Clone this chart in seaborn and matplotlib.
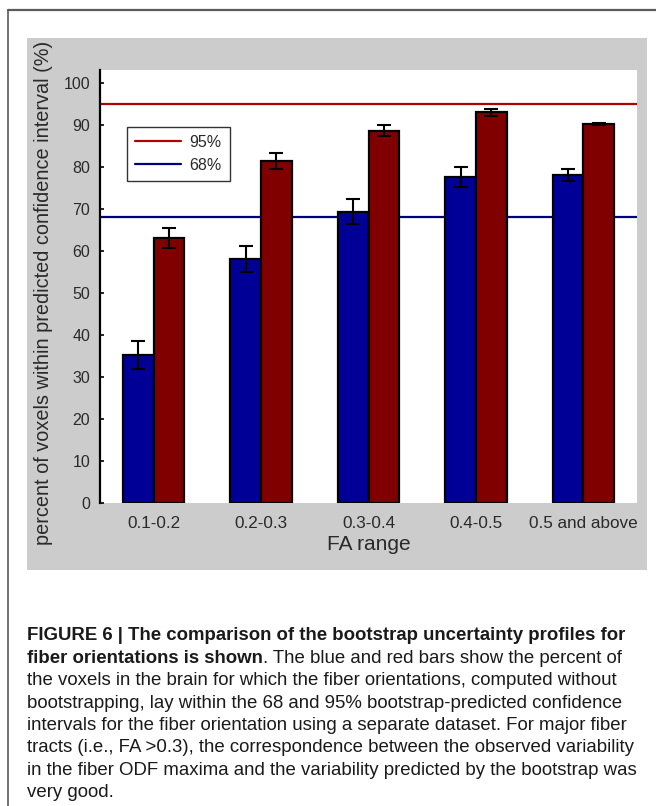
import matplotlib
matplotlib.use("Agg")
import matplotlib.pyplot as plt
from matplotlib.patches import Rectangle
from matplotlib.lines import Line2D
import numpy as np
import pandas as pd
import seaborn as sns

# ---- data -------------------------------------------------------------
fa_ranges = ["0.1-0.2", "0.2-0.3", "0.3-0.4", "0.4-0.5", "0.5 and above"]
pct_68 = [35.2, 58.1, 69.3, 77.6, 78.1]
err_68 = [3.3, 3.1, 2.9, 2.4, 1.4]
pct_95 = [63.1, 81.4, 88.6, 92.9, 90.2]
err_95 = [2.4, 1.9, 1.3, 0.8, 0.3]
levels = ["68%", "95%"]
ref_levels = [68, 95]
y_ticks = [0, 10, 20, 30, 40, 50, 60, 70, 80, 90, 100]

caption_lines = [
    [("FIGURE 6 | The comparison of the bootstrap uncertainty profiles for", "bold")],
    [("fiber orientations is shown", "bold"),
     (". The blue and red bars show the percent of", "normal")],
    [("the voxels in the brain for which the fiber orientations, computed without", "normal")],
    [("bootstrapping, lay within the 68 and 95% bootstrap-predicted confidence", "normal")],
    [("intervals for the fiber orientation using a separate dataset. For major fiber", "normal")],
    [("tracts (i.e., FA >0.3), the correspondence between the observed variability", "normal")],
    [("in the fiber ODF maxima and the variability predicted by the bootstrap was", "normal")],
    [("very good.", "normal")],
]

BAR_BLUE = "#000096"
BAR_RED = "#800000"
LINE_BLUE = "#00007a"
LINE_RED = "#b00000"
TEXT = "#2a2a2a"

df = pd.DataFrame({
    "FA range": fa_ranges * 2,
    "level": [levels[0]] * len(fa_ranges) + [levels[1]] * len(fa_ranges),
    "pct": pct_68 + pct_95,
    "err": err_68 + err_95,
})

# ---- figure -----------------------------------------------------------
sns.set_theme(style="white")
plt.rcParams["font.family"] = ["Liberation Sans", "DejaVu Sans"]

W, H = 656, 806
fig = plt.figure(figsize=(W / 100, H / 100), dpi=100)
fig.patch.set_facecolor("white")


def fx(px):
    return px / W


def fy(py):
    return 1 - py / H


# outer frame (top and left edges)
fig.add_artist(Line2D([fx(8), 1.0], [fy(10), fy(10)], color="#5a5a5a", lw=1.6))
fig.add_artist(Line2D([fx(8), fx(8)], [fy(10), 0.0], color="#5a5a5a", lw=1.2))

# grey panel behind the chart
fig.add_artist(Rectangle((fx(27), fy(570)), fx(647) - fx(27), fy(38) - fy(570),
                         facecolor="#cccccc", edgecolor="none", zorder=0))

ax_l, ax_r, ax_t, ax_b = 100, 637, 70, 503
ax = fig.add_axes([fx(ax_l), fy(ax_b), fx(ax_r) - fx(ax_l), fy(ax_t) - fy(ax_b)])
ax.set_facecolor("white")

sns.barplot(data=df, x="FA range", y="pct", hue="level", hue_order=levels,
            palette=[BAR_BLUE, BAR_RED], saturation=1, width=0.57, edgecolor="black",
            linewidth=1.6, errorbar=None, legend=False, ax=ax, zorder=3)

# error bars at the centres of the drawn bars
for cont, lvl in zip(ax.containers, levels):
    sub = df[df["level"] == lvl]
    xs = [p.get_x() + p.get_width() / 2 for p in cont.patches]
    ax.errorbar(xs, sub["pct"].values, yerr=sub["err"].values, fmt="none",
                ecolor="black", elinewidth=1.5, capsize=4.8, capthick=1.5, zorder=4)

# reference confidence levels
ax.axhline(ref_levels[1], color=LINE_RED, lw=1.6, zorder=2)
ax.axhline(ref_levels[0], color=LINE_BLUE, lw=1.6, zorder=2)

ax.set_xlim(-0.5, len(fa_ranges) - 0.5)
ax.set_ylim(0, 103)
ax.set_yticks(y_ticks)
ax.tick_params(axis="y", direction="in", length=3, width=1.2, color="black",
               labelsize=11.5, labelcolor=TEXT, pad=7, left=True)
ax.tick_params(axis="x", length=0, labelsize=12.3, labelcolor=TEXT, pad=9)
for s in ["top", "right", "bottom"]:
    ax.spines[s].set_visible(False)
ax.spines["left"].set_color("black")
ax.spines["left"].set_linewidth(1.6)

ax.set_xlabel("FA range", fontsize=15, color=TEXT, labelpad=3)
ax.set_ylabel("")
fig.text(fx(44), fy(293), "percent of voxels within predicted confidence interval (%)",
         rotation=90, ha="center", va="center", fontsize=14.3, color=TEXT)

handles = [Line2D([], [], color=LINE_RED, lw=1.6),
           Line2D([], [], color=LINE_BLUE, lw=1.6)]
leg = ax.legend(handles, [levels[1], levels[0]], loc="upper left",
                bbox_to_anchor=((127 - ax_l) / (ax_r - ax_l), (ax_b - 127) / (ax_b - ax_t)),
                borderaxespad=0, fancybox=False, frameon=True, fontsize=11.5,
                handlelength=2.9, handletextpad=0.5, borderpad=0.5, labelspacing=0.5)
leg.get_frame().set_edgecolor("black")
leg.get_frame().set_linewidth(1.0)
for t in leg.get_texts():
    t.set_color(TEXT)

# caption
fig.canvas.draw()
renderer = fig.canvas.get_renderer()
cap_size = 13.4
y0, dy = 636, 22.4
for i, parts in enumerate(caption_lines):
    x = fx(27)
    for text, weight in parts:
        t = fig.text(x, fy(y0 + i * dy), text, fontsize=cap_size, fontweight=weight,
                     ha="left", va="center", color="#1a1a1a")
        bb = t.get_window_extent(renderer=renderer)
        x = bb.x1 / fig.bbox.width

fig.savefig("out.png", dpi=100)
